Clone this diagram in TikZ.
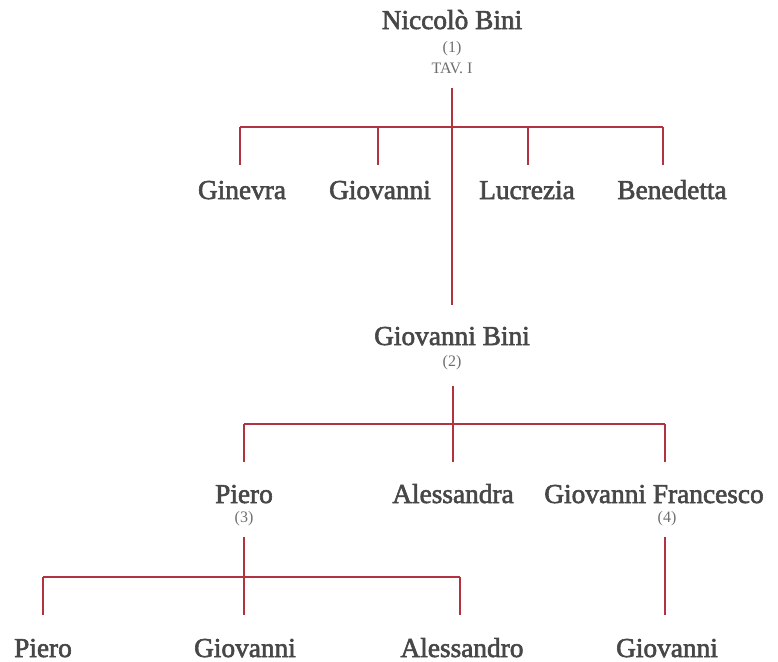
\documentclass[tikz,border=0pt]{standalone}
\usepackage{fontspec}
\setmainfont{Liberation Serif}
\newfontfamily\nomefont{Liberation Serif}[FakeBold=2.2]
\usepackage{xcolor}
\definecolor{linea}{HTML}{B3323F}
\definecolor{nome}{HTML}{474747}
\definecolor{nota}{HTML}{6E6E6E}

\tikzset{
  persona/.style={anchor=base, inner sep=0pt, text=nome,
    font=\nomefont\fontsize{20.5}{20.5}\selectfont},
  nota/.style={anchor=base, inner sep=0pt, text=nota,
    font=\fontsize{12}{12}\selectfont},
  ramo/.style={draw=linea, line width=0.9pt},
}

\begin{document}
\begin{tikzpicture}[x=0.75pt, y=-0.75pt]
  \useasboundingbox (0,0) rectangle (778,661);

  % generazione I
  \node[persona] (niccolo) at (452, 29) {Niccolò Bini};
  \node[nota] (n1) at (452, 52) {(1)};
  \node[nota] (tav) at (452, 73) {TAV. I};

  % figli di Niccolò
  \foreach \id/\x/\d/\name in {ginevra/242/240/Ginevra,
      giovanniA/380/378/Giovanni,
      lucrezia/527/528/Lucrezia,
      benedetta/672/663/Benedetta} {
    \node[persona] (\id) at (\x, 199) {\name};
    \coordinate (\id-su) at (\d, 127);
    \coordinate (\id-giu) at (\d, 165);
    \draw[ramo] (\id-su) -- (\id-giu);
  }
  \draw[ramo] (ginevra-su) -- (benedetta-su);

  % generazione II
  \node[persona] (gbini) at (452, 345) {Giovanni Bini};
  \node[nota] (n2) at (452, 366) {(2)};
  \coordinate (niccolo-giu) at (452, 88);
  \coordinate (gbini-su) at (452, 305);
  \draw[ramo] (niccolo-giu) -- (gbini-su);

  % figli di Giovanni
  \foreach \id/\x/\d/\name in {piero/244/244/Piero,
      alessandra/453/453/Alessandra,
      gfrancesco/654/665/Giovanni Francesco} {
    \node[persona] (\id) at (\x, 503) {\name};
    \coordinate (\id-su) at (\d, 424);
    \coordinate (\id-giu) at (\d, 462);
    \draw[ramo] (\id-su) -- (\id-giu);
  }
  \draw[ramo] (piero-su) -- (gfrancesco-su);
  \coordinate (gbini-giu) at (453, 386);
  \draw[ramo] (gbini-giu) -- (alessandra-su);
  \node[nota] (n3) at (244, 522) {(3)};
  \node[nota] (n4) at (667, 522) {(4)};

  % generazione IV
  \foreach \id/\x/\d/\name in {pieroB/43/43/Piero,
      giovanniB/245/244/Giovanni,
      alessandro/462/460/Alessandro} {
    \node[persona] (\id) at (\x, 657) {\name};
    \coordinate (\id-su) at (\d, 577);
    \coordinate (\id-giu) at (\d, 615);
    \draw[ramo] (\id-su) -- (\id-giu);
  }
  \draw[ramo] (pieroB-su) -- (alessandro-su);
  \coordinate (piero-giu2) at (244, 537);
  \draw[ramo] (piero-giu2) -- (giovanniB-giu);

  \node[persona] (giovanniC) at (667, 657) {Giovanni};
  \coordinate (gfrancesco-giu2) at (665, 537);
  \coordinate (giovanniC-su) at (665, 615);
  \draw[ramo] (gfrancesco-giu2) -- (giovanniC-su);
\end{tikzpicture}
\end{document}
